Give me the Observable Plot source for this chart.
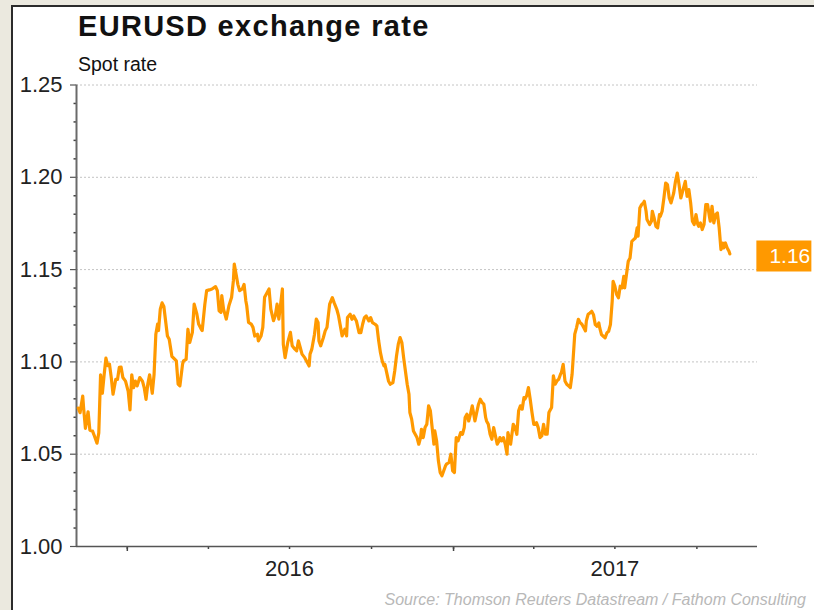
<!DOCTYPE html>
<html><head><meta charset="utf-8">
<script src="https://cdn.jsdelivr.net/npm/d3@7"></script>
<script src="https://cdn.jsdelivr.net/npm/@observablehq/plot@0.6"></script>
<style>
html,body{margin:0;padding:0;width:814px;height:610px;overflow:hidden;background:#ebe9df;font-family:"Liberation Sans",Arial,sans-serif;}
#panel{position:absolute;left:11px;top:5px;width:820px;height:620px;background:#fff;border-left:2px solid #2b2b2b;border-top:2px solid #2b2b2b;}
#title{position:absolute;left:78px;top:12px;font-size:29px;font-weight:bold;line-height:1;color:#111;letter-spacing:1.3px;white-space:nowrap}
#subtitle{position:absolute;left:78px;top:55px;font-size:19.5px;line-height:1;color:#111;white-space:nowrap}
#chart{position:absolute;left:0;top:74px}
#source{position:absolute;right:8px;top:592px;font-size:16px;font-style:italic;color:#b8b8b8;line-height:1;white-space:nowrap}
</style></head>
<body>
<div id="panel"></div>
<div id="title">EURUSD exchange rate</div>
<div id="subtitle">Spot rate</div>
<div id="chart"></div>
<div id="source">Source: Thomson Reuters Datastream / Fathom Consulting</div>
<script>
const dates = [
"2015-11-07","2015-11-09","2015-11-12","2015-11-13","2015-11-15","2015-11-18","2015-11-20","2015-11-23","2015-11-25","2015-11-28","2015-11-30",
"2015-12-02","2015-12-04","2015-12-06","2015-12-08","2015-12-10","2015-12-12","2015-12-14","2015-12-16","2015-12-19","2015-12-21","2015-12-23","2015-12-25","2015-12-27","2015-12-30",
"2016-01-02","2016-01-04","2016-01-06","2016-01-08","2016-01-10","2016-01-12","2016-01-15","2016-01-18","2016-01-20","2016-01-22","2016-01-24","2016-01-26","2016-01-29","2016-01-31",
"2016-02-02","2016-02-04","2016-02-05","2016-02-07","2016-02-09","2016-02-11","2016-02-13","2016-02-15","2016-02-17","2016-02-20","2016-02-22","2016-02-25","2016-02-27","2016-02-29",
"2016-03-03","2016-03-04","2016-03-07","2016-03-09","2016-03-11","2016-03-14","2016-03-16","2016-03-19","2016-03-21","2016-03-24","2016-03-25","2016-03-28","2016-03-30",
"2016-04-02","2016-04-05","2016-04-09","2016-04-11","2016-04-13","2016-04-15","2016-04-16","2016-04-18","2016-04-21","2016-04-24","2016-04-27","2016-04-29","2016-04-30",
"2016-05-02","2016-05-04","2016-05-06","2016-05-09","2016-05-11","2016-05-13","2016-05-14","2016-05-16","2016-05-19","2016-05-21","2016-05-23","2016-05-26","2016-05-27","2016-05-30",
"2016-06-01","2016-06-03","2016-06-05","2016-06-08","2016-06-10","2016-06-13","2016-06-15","2016-06-17","2016-06-19","2016-06-21","2016-06-23","2016-06-24","2016-06-26","2016-06-29",
"2016-07-02","2016-07-04","2016-07-07","2016-07-09","2016-07-11","2016-07-13","2016-07-15","2016-07-18","2016-07-20","2016-07-23","2016-07-24","2016-07-26","2016-07-29","2016-07-31",
"2016-08-02","2016-08-03","2016-08-05","2016-08-08","2016-08-10","2016-08-12","2016-08-15","2016-08-18","2016-08-20","2016-08-23","2016-08-25","2016-08-27","2016-08-29",
"2016-09-01","2016-09-03","2016-09-04","2016-09-07","2016-09-09","2016-09-11","2016-09-14","2016-09-17","2016-09-19","2016-09-21","2016-09-23","2016-09-25","2016-09-28","2016-09-30",
"2016-10-02","2016-10-05","2016-10-07","2016-10-09","2016-10-11","2016-10-13","2016-10-15","2016-10-16","2016-10-18","2016-10-20","2016-10-22","2016-10-25","2016-10-27","2016-10-29","2016-10-31",
"2016-11-02","2016-11-04","2016-11-06","2016-11-08","2016-11-10","2016-11-12","2016-11-13","2016-11-15","2016-11-17","2016-11-19","2016-11-21","2016-11-23","2016-11-25","2016-11-26","2016-11-28","2016-11-30",
"2016-12-02","2016-12-04","2016-12-06","2016-12-08","2016-12-10","2016-12-11","2016-12-13","2016-12-15","2016-12-17","2016-12-19","2016-12-21","2016-12-23","2016-12-24","2016-12-27","2016-12-29","2016-12-31",
"2017-01-02","2017-01-04","2017-01-06","2017-01-09","2017-01-11","2017-01-13","2017-01-14","2017-01-16","2017-01-18","2017-01-20","2017-01-22","2017-01-23","2017-01-25","2017-01-27","2017-01-29","2017-01-31",
"2017-02-02","2017-02-04","2017-02-06","2017-02-07","2017-02-09","2017-02-11","2017-02-13","2017-02-15","2017-02-17","2017-02-19","2017-02-21","2017-02-22","2017-02-24","2017-02-26","2017-02-28",
"2017-03-02","2017-03-03","2017-03-06","2017-03-07","2017-03-09","2017-03-11","2017-03-13","2017-03-15","2017-03-17","2017-03-19","2017-03-21","2017-03-22","2017-03-24","2017-03-26","2017-03-28","2017-03-30",
"2017-04-01","2017-04-03","2017-04-04","2017-04-06","2017-04-08","2017-04-10","2017-04-12","2017-04-14","2017-04-16","2017-04-18","2017-04-19","2017-04-21","2017-04-23","2017-04-25","2017-04-27","2017-04-29",
"2017-05-01","2017-05-02","2017-05-04","2017-05-06","2017-05-08","2017-05-10","2017-05-12","2017-05-14","2017-05-16","2017-05-17","2017-05-19","2017-05-21","2017-05-23","2017-05-25","2017-05-27","2017-05-29","2017-05-30",
"2017-06-01","2017-06-03","2017-06-05","2017-06-07","2017-06-09","2017-06-11","2017-06-13","2017-06-14","2017-06-16","2017-06-18","2017-06-20","2017-06-22","2017-06-24","2017-06-26","2017-06-28","2017-06-29",
"2017-07-01","2017-07-03","2017-07-05","2017-07-07","2017-07-09","2017-07-11","2017-07-12","2017-07-14","2017-07-16","2017-07-18","2017-07-20","2017-07-22","2017-07-24","2017-07-26","2017-07-27","2017-07-29","2017-07-31",
"2017-08-02","2017-08-03","2017-08-05","2017-08-06","2017-08-09","2017-08-11","2017-08-12","2017-08-14","2017-08-16","2017-08-18","2017-08-20","2017-08-21","2017-08-23","2017-08-25","2017-08-27","2017-08-29","2017-08-31",
"2017-09-02","2017-09-04","2017-09-05","2017-09-07","2017-09-09","2017-09-11","2017-09-13","2017-09-15","2017-09-17","2017-09-18","2017-09-20","2017-09-22","2017-09-24","2017-09-26","2017-09-28","2017-09-30",
"2017-10-02","2017-10-03","2017-10-05","2017-10-07","2017-10-09","2017-10-11","2017-10-13","2017-10-15","2017-10-16","2017-10-18","2017-10-20","2017-10-22","2017-10-24","2017-10-26","2017-10-28","2017-10-30","2017-10-31",
"2017-11-02","2017-11-04","2017-11-06","2017-11-07"
];
const rate = [
1.075,1.0725,1.0815,1.075,1.064,1.073,1.063,1.0625,1.060,1.056,1.0615,
1.093,1.083,1.093,1.102,1.098,1.0988,1.0915,1.0825,1.0905,1.0905,1.097,1.0972,1.0915,1.0896,
1.084,1.074,1.093,1.086,1.0896,1.087,1.0915,1.0896,1.086,1.0797,1.088,1.093,1.083,1.093,
1.115,1.1205,1.117,1.1286,1.132,1.130,1.122,1.114,1.1123,1.103,1.102,1.1005,1.088,1.087,
1.0988,1.1005,1.1014,1.1177,1.1105,1.116,1.1313,1.126,1.1205,1.1177,1.117,1.1313,1.1386,
1.139,1.1395,1.1408,1.1386,1.1277,1.1268,1.1359,1.1286,1.1232,1.1304,1.135,1.144,1.153,
1.1476,1.142,1.1386,1.1395,1.142,1.133,1.1304,1.1214,1.1205,1.1187,1.114,1.115,1.1114,1.114,
1.1187,1.135,1.1368,1.1395,1.1286,1.1223,1.125,1.1313,1.1232,1.1313,1.1395,1.1096,1.1023,1.1105,
1.116,1.1087,1.1069,1.106,1.1114,1.1078,1.1042,1.1023,1.1005,1.0978,1.1042,1.1069,1.115,1.1232,
1.1214,1.1114,1.1087,1.1132,1.1168,1.1187,1.1313,1.1348,1.1321,1.1285,1.1249,1.1195,1.1141,
1.1177,1.1141,1.124,1.1258,1.1231,1.1249,1.1222,1.1159,1.1159,1.1204,1.124,1.1249,1.1222,1.124,
1.1213,1.1204,1.1195,1.1114,1.105,1.1005,1.0978,1.0987,1.0942,1.0897,1.0879,1.0888,1.0951,1.1032,1.1096,
1.1132,1.1105,1.1023,1.0951,1.0879,1.0825,1.0726,1.069,1.0626,1.0608,1.059,1.0554,1.059,1.0635,1.059,1.0644,
1.0662,1.0762,1.0735,1.0644,1.0554,1.0626,1.0572,1.0464,1.0401,1.0383,1.041,1.0437,1.0446,1.0455,1.05,1.041,
1.0401,1.059,1.0572,1.0617,1.0608,1.0644,1.0699,1.0717,1.068,1.0717,1.0762,1.0735,1.068,1.0726,1.0771,1.0798,
1.078,1.0771,1.0699,1.068,1.0662,1.0608,1.0581,1.0644,1.0599,1.0554,1.0572,1.059,1.0572,1.059,1.0554,
1.05,1.0617,1.0554,1.059,1.0662,1.0644,1.0608,1.0735,1.0762,1.0744,1.0807,1.0798,1.0816,1.0861,1.0798,1.0726,
1.0662,1.0662,1.0671,1.0644,1.059,1.0599,1.0662,1.0608,1.0608,1.0726,1.0735,1.0753,1.0924,1.0879,1.0897,1.0906,
1.0933,1.0942,1.0987,1.0897,1.0879,1.087,1.0861,1.0933,1.1078,1.115,1.1186,1.1231,1.1213,1.1204,1.1186,1.1168,1.1222,
1.1258,1.1265,1.1274,1.1256,1.1202,1.1193,1.1211,1.1184,1.1148,1.1139,1.113,1.1157,1.1166,1.1202,1.1329,1.1437,
1.141,1.1365,1.1347,1.141,1.1401,1.1464,1.1401,1.1473,1.1545,1.1563,1.1653,1.1662,1.1671,1.1726,1.1681,1.1834,1.1852,
1.1861,1.187,1.1816,1.1771,1.1744,1.1762,1.1816,1.178,1.1735,1.1726,1.1798,1.1789,1.1816,1.1888,1.1969,1.196,1.1888,
1.1861,1.1897,1.1915,1.1978,1.2023,1.196,1.1888,1.1924,1.196,1.1978,1.1897,1.1933,1.1861,1.1762,1.1744,1.1798,
1.1744,1.1735,1.1753,1.1717,1.1744,1.1852,1.1852,1.1789,1.1762,1.1843,1.1753,1.1798,1.1807,1.1726,1.1608,1.1644,1.1617,
1.1644,1.1617,1.1599,1.1585
];
const yMajorTicks = [1.00, 1.05, 1.10, 1.15, 1.20, 1.25];
const yGridTicks = [1.05, 1.10, 1.15, 1.20, 1.25];
const yMinorTicks = [1.01,1.02,1.03,1.04,1.06,1.07,1.08,1.09,1.11,1.12,1.13,1.14,1.16,1.17,1.18,1.19,1.21,1.22,1.23,1.24];
const quarterTicks = ["2016-01-01","2016-04-01","2016-07-01","2016-10-01","2017-01-01","2017-04-01","2017-07-01","2017-10-01"];
const yearStartTicks = ["2016-01-01","2017-01-01"];
const yearLabelDates = ["2016-07-01","2017-07-01"];
const xDomain = ["2015-11-05","2017-12-08"];
const yDomain = [1.00, 1.25];

const orange = "#ff9900";
const data = dates.map((d, i) => ({date: new Date(d), rate: rate[i]}));
const last = data[data.length - 1];
const boxSymbol = {draw(ctx) { ctx.rect(-27.5, -15.5, 55, 31); }};

const chart = Plot.plot({
  width: 814,
  height: 510,
  marginLeft: 76,
  marginRight: 57,
  marginTop: 10.5,
  marginBottom: 38,
  style: {background: "transparent", fontFamily: "'Liberation Sans', Arial, sans-serif", fontSize: "22px", color: "#222", overflow: "visible"},
  x: {type: "utc", domain: xDomain.map(d => new Date(d)), label: null},
  y: {domain: yDomain, label: null},
  marks: [
    Plot.gridY(yGridTicks, {stroke: "#c4c4c4", strokeOpacity: 1, strokeDasharray: "2,2", strokeWidth: 1}),
    Plot.axisY({ticks: yMinorTicks, tickSize: 2.5, tickFormat: () => "", stroke: "#444", strokeWidth: 1.5}),
    Plot.axisY({ticks: yMajorTicks, tickSize: 6, tickPadding: 8, tickFormat: d3.format(".2f"), stroke: "#555", strokeWidth: 1.2, fontSize: 22}),
    Plot.axisX({ticks: quarterTicks.map(d => new Date(d)), tickSize: 3, tickFormat: () => "", stroke: "#444", strokeWidth: 1.5}),
    Plot.axisX({ticks: yearStartTicks.map(d => new Date(d)), tickSize: 5, tickFormat: () => "", stroke: "#444", strokeWidth: 1.5}),
    Plot.axisX({ticks: yearLabelDates.map(d => new Date(d)), tickSize: 0, tickPadding: 14, tickFormat: d => String(d.getUTCFullYear()), fontSize: 22}),
    Plot.ruleX([new Date(xDomain[0])], {stroke: "#6a6a6a", strokeWidth: 2}),
    Plot.ruleY([yDomain[0]], {stroke: "#555", strokeWidth: 1.5}),
    Plot.lineY(data, {x: "date", y: "rate", stroke: orange, strokeWidth: 3.2, strokeLinejoin: "round"}),
    Plot.dot([last], {x: "date", y: "rate", symbol: boxSymbol, fill: orange, stroke: "none", r: 10, dx: 54, dy: 2}),
    Plot.text([last], {x: "date", y: "rate", text: d => d.rate.toFixed(2), dx: 60, dy: 2, fill: "white", fontSize: 21})
  ]
});
document.getElementById("chart").appendChild(chart);
</script>
</body></html>
